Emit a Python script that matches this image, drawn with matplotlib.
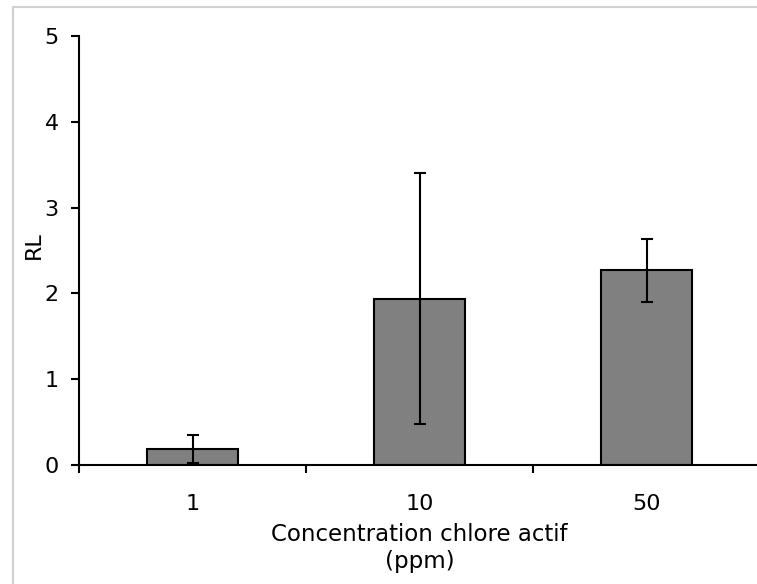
import matplotlib
matplotlib.use("Agg")
import matplotlib.pyplot as plt
from matplotlib.patches import Rectangle

categories = ["1", "10", "50"]
values = [0.19, 1.94, 2.27]
errors = [0.165, 1.46, 0.365]
yticks = [0, 1, 2, 3, 4, 5]

plt.rcParams['font.family'] = ['DejaVu Sans']
FS = 16

fig = plt.figure(figsize=(7.57, 5.84), dpi=100)
fig.patches.append(Rectangle((13/757, -0.01), 1 - 13/757 + 0.02, 1 - 7/584 + 0.01,
                             transform=fig.transFigure, fill=False,
                             edgecolor='#d0d0d0', linewidth=1.5))
ax = fig.add_axes([79/757, 119/584, 681/757, 429/584])

x = list(range(len(categories)))
ax.bar(x, values, width=0.4, color='#808080', edgecolor='black', linewidth=1.5,
       yerr=errors, error_kw=dict(ecolor='black', elinewidth=1.5, capsize=4, capthick=1.5),
       zorder=2)

ax.set_xlim(-0.5, 2.5)
ax.set_ylim(0, 5)
ax.set_yticks(yticks)
ax.set_yticklabels([str(t) for t in yticks])
ax.set_xticks([-0.5, 0.5, 1.5])
ax.set_xticklabels([])
ax.set_xticks(x, minor=True)
ax.set_xticklabels(categories, minor=True)
ax.tick_params(axis='x', which='minor', length=0, pad=21, labelsize=FS)
ax.tick_params(axis='x', which='major', length=5.5, width=1.5, direction='out')
ax.tick_params(axis='y', length=5.5, width=1.5, direction='out', pad=9, labelsize=FS)

for s in ['top', 'right']:
    ax.spines[s].set_visible(False)
for s in ['left', 'bottom']:
    ax.spines[s].set_linewidth(1.5)

ax.set_ylabel('RL', fontsize=FS)
ax.yaxis.set_label_coords(-0.051, 0.513)
ax.set_xlabel('Concentration chlore actif\n(ppm)', fontsize=16.5, linespacing=1.2)
ax.xaxis.set_label_coords(0.5, -0.136)

fig.savefig('out.png', dpi=100)
